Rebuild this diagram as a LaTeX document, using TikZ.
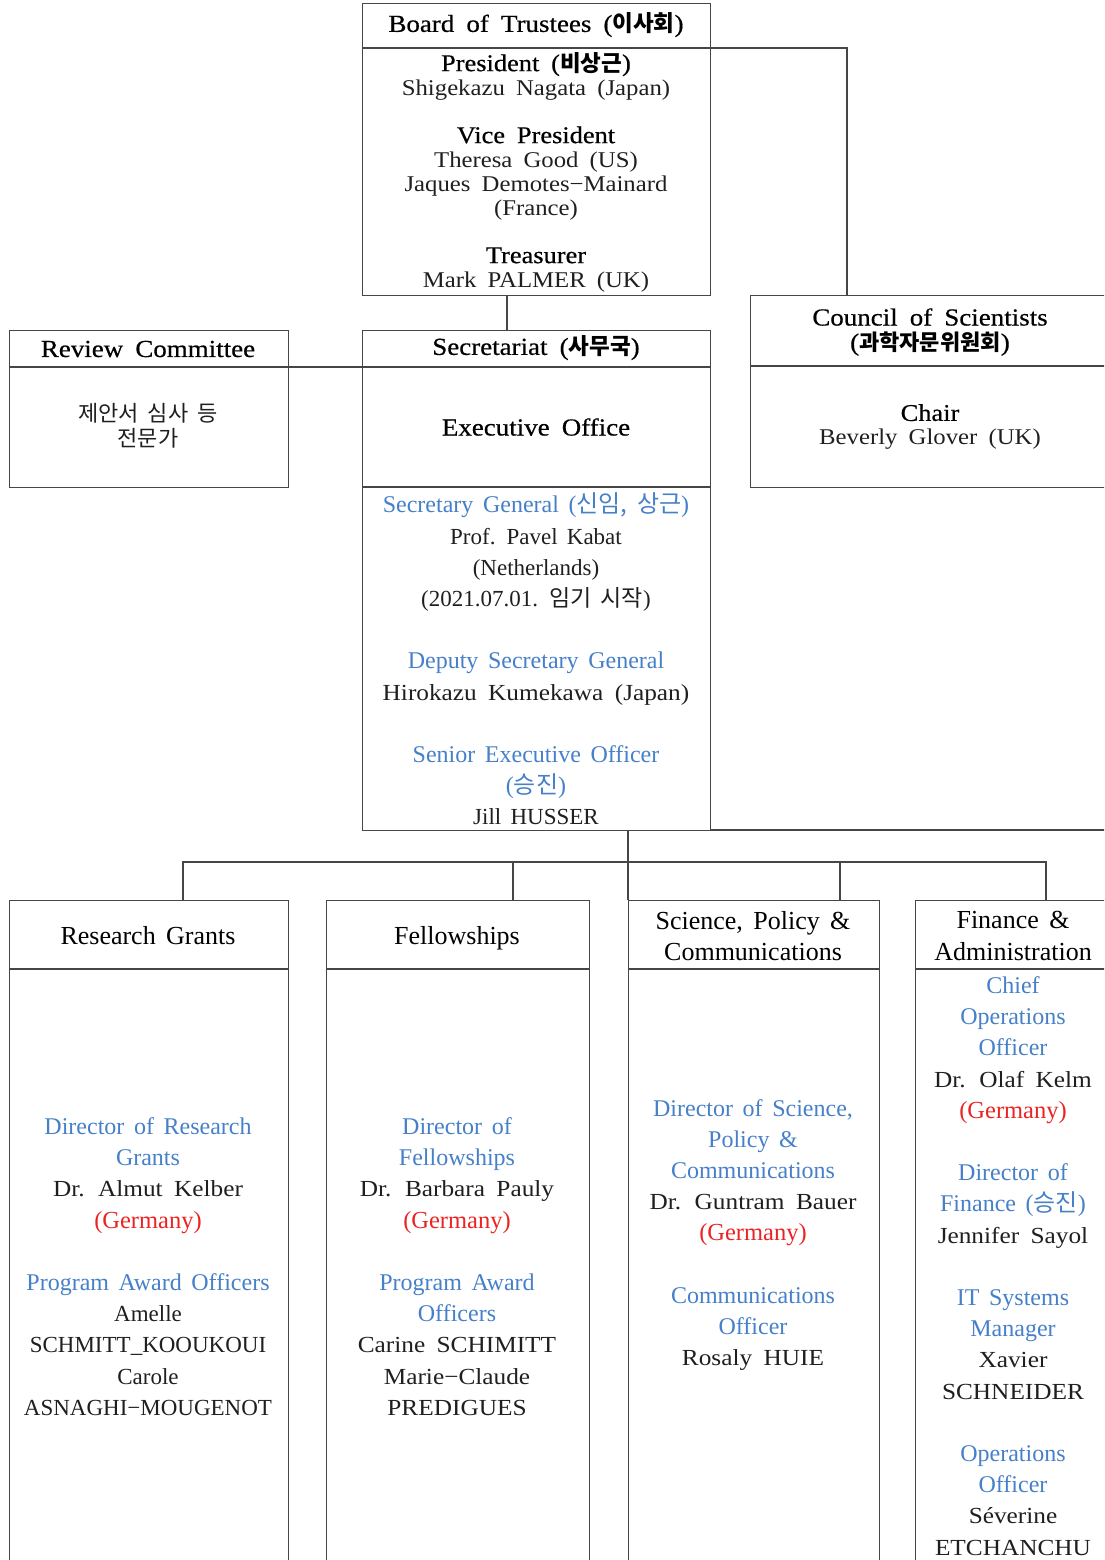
\documentclass[tikz,border=0pt]{standalone}
\usepackage{fontspec}
\setmainfont{Liberation Serif}
\newfontfamily\wf{Liberation Serif}[FakeStretch=1.1,WordSpace=1.8]
\newfontfamily\tf{Liberation Serif}[FakeStretch=1.1,WordSpace=1.8,FakeBold=0.5]
\newfontfamily\nf{Liberation Serif}[WordSpace=1.6]
\newfontfamily\kr{Noto Sans CJK KR}[WordSpace=1.8]
\definecolor{ablue}{RGB}{70,128,200}
\definecolor{ared}{RGB}{235,35,35}
\definecolor{aline}{RGB}{70,70,70}
\newcommand\bl[1]{{\nf\fontsize{24}{31.2}\selectfont\color{ablue}#1}}
\newcommand\rd[1]{{\nf\fontsize{24.5}{31.2}\selectfont\color{ared}#1}}
\newcommand\hd[1]{{\tf\fontsize{24}{24}\selectfont\color{black}#1}}
\newcommand\krb[1]{{\kr\bfseries\fontsize{22.5}{24}\selectfont #1}}
\begin{document}
\begin{tikzpicture}[x=1pt,y=-1pt,
  box/.style={draw=aline,line width=1.3pt,rectangle,inner sep=0,anchor=north west},
  ln/.style={draw=aline,line width=1.3pt},
  txt/.style={inner sep=0,align=center,font=\wf\fontsize{23}{31.2}\selectfont,text=black!88},
  ttl/.style={inner sep=0,align=center,font=\tf\fontsize{24.5}{24}\selectfont,text=black},
  hdr/.style={inner sep=0,align=center,font=\nf\fontsize{26}{31.2}\selectfont,text=black},
]
\useasboundingbox (0,0) rectangle (1104,1560);
\clip (0,0) rectangle (1104,1560);
% ---------- boxes ----------
\node[box,minimum width=348pt,minimum height=292pt] (board) at (362,3) {};
\node[box,minimum width=360pt,minimum height=192pt] (council) at (750,295) {};
\node[box,minimum width=279pt,minimum height=157pt] (review) at (9,330) {};
\node[box,minimum width=348pt,minimum height=500pt] (secr) at (362,330) {};
\node[box,minimum width=279pt,minimum height=680pt] (rg) at (9,900) {};
\node[box,minimum width=263pt,minimum height=680pt] (fel) at (326,900) {};
\node[box,minimum width=251pt,minimum height=680pt] (spc) at (628,900) {};
\node[box,minimum width=200pt,minimum height=680pt] (fin) at (915,900) {};
% ---------- dividers ----------
\draw[ln] (362,48) -- (710,48);
\draw[ln] (750,366) -- (1110,366);
\draw[ln] (9,367) -- (288,367);
\draw[ln] (362,367) -- (710,367);
\draw[ln] (362,487) -- (710,487);
\draw[ln] (9,969) -- (288,969);
\draw[ln] (326,969) -- (589,969);
\draw[ln] (628,969) -- (879,969);
\draw[ln] (915,969) -- (1110,969);
% ---------- connector points ----------
\coordinate (bR) at (710,48);
\coordinate (cT) at (847,295);
\coordinate (bB) at (507,295);
\coordinate (sT) at (507,330);
\coordinate (rR) at (288,367);
\coordinate (sL) at (362,367);
\coordinate (sBR) at (710,830);
\coordinate (xEnd) at (1110,830);
\coordinate (sB) at (628,830);
\coordinate (hub) at (628,862);
\coordinate (rgT) at (183,900);
\coordinate (felT) at (513,900);
\coordinate (spcT) at (628,900);
\coordinate (spcT2) at (840,900);
\coordinate (finT) at (1046,900);
% ---------- connectors ----------
\draw[ln] (bR) -| (cT);
\draw[ln] (bB) -- (sT);
\draw[ln] (rR) -- (sL);
\draw[ln] (sBR) -- (xEnd);
\draw[ln] (sB) -- (spcT);
\draw[ln] (rgT) |- (hub);
\draw[ln] (hub) -| (finT);
\draw[ln] (felT) -- (felT |- hub);
\draw[ln] (spcT2) -- (spcT2 |- hub);
% ---------- texts: top ----------
\node[ttl] (bt) at (536,25) {Board of Trustees (\krb{이사회})};
\node[txt,font=\wf\fontsize{22.5}{24}\selectfont] (bb) at (536,172)
 {\hd{President (\krb{비상근})}\\
  Shigekazu Nagata (Japan)\\[24pt]
  \hd{Vice President}\\
  Theresa Good (US)\\
  Jaques Demotes−Mainard\\
  (France)\\[24pt]
  \hd{Treasurer}\\
  Mark PALMER (UK)};
\node[ttl] (rt) at (148,349) {Review Committee};
\node[txt,font=\kr\fontsize{22}{25}\selectfont] (rb) at (148,426) {제안서 심사 등\\전문가};
\node[ttl,font=\tf\fontsize{24.5}{25}\selectfont] (ct) at (930,332) {Council of Scientists\\({\kr\bfseries\fontsize{22}{25}\selectfont 과학자문위원회})};
\node[txt,font=\wf\fontsize{22.5}{24}\selectfont] (cb) at (930,427) {\hd{Chair}\\Beverly Glover (UK)};
\node[ttl] (st) at (536,348) {Secretariat (\krb{사무국})};
\node[ttl] (eo) at (536,427) {Executive Office};
\node[txt] (sb) at (536,659)
 {\bl{Secretary General ({\kr 신임, 상근})}\\
  {\nf Prof. Pavel Kabat}\\
  {\nf (Netherlands)}\\
  {\nf (2021.07.01. {\kr 임기 시작})}\\[31.2pt]
  \bl{Deputy Secretary General}\\
  Hirokazu Kumekawa (Japan)\\[31.2pt]
  \bl{Senior Executive Officer}\\
  \bl{({\kr 승진})}\\
  {\nf Jill HUSSER}};
% ---------- texts: bottom ----------
\node[hdr] (rgh) at (148,936) {Research Grants};
\node[hdr] (felh) at (457,938) {Fellowships};
\node[hdr] (spch) at (753,936) {Science, Policy \&\\Communications};
\node[hdr] (finh) at (1013,936) {Finance \&\\Administration};
\node[txt] (rgb) at (148,1266.5)
 {\bl{Director of Research}\\
  \bl{Grants}\\
  Dr. Almut Kelber\\
  \rd{(Germany)}\\[31.2pt]
  \bl{Program Award Officers}\\
  {\nf Amelle}\\
  {\nf SCHMITT\_KOOUKOUI}\\
  {\nf Carole}\\
  {\nf ASNAGHI−MOUGENOT}};
\node[txt] (felb) at (457,1266.5)
 {\bl{Director of}\\
  \bl{Fellowships}\\
  Dr. Barbara Pauly\\
  \rd{(Germany)}\\[31.2pt]
  \bl{Program Award}\\
  \bl{Officers}\\
  Carine SCHIMITT\\
  Marie−Claude\\
  PREDIGUES};
\node[txt] (spcb) at (753,1235)
 {\bl{Director of Science,}\\
  \bl{Policy \&}\\
  \bl{Communications}\\
  Dr. Guntram Bauer\\
  \rd{(Germany)}\\[31.2pt]
  \bl{Communications}\\
  \bl{Officer}\\
  Rosaly HUIE};
\node[txt] (finb) at (1013,1266)
 {\bl{Chief}\\
  \bl{Operations}\\
  \bl{Officer}\\
  Dr. Olaf Kelm\\
  \rd{(Germany)}\\[31.2pt]
  \bl{Director of}\\
  \bl{Finance ({\kr 승진})}\\
  Jennifer Sayol\\[31.2pt]
  \bl{IT Systems}\\
  \bl{Manager}\\
  Xavier\\
  SCHNEIDER\\[31.2pt]
  \bl{Operations}\\
  \bl{Officer}\\
  Séverine\\
  ETCHANCHU};
\end{tikzpicture}
\end{document}
